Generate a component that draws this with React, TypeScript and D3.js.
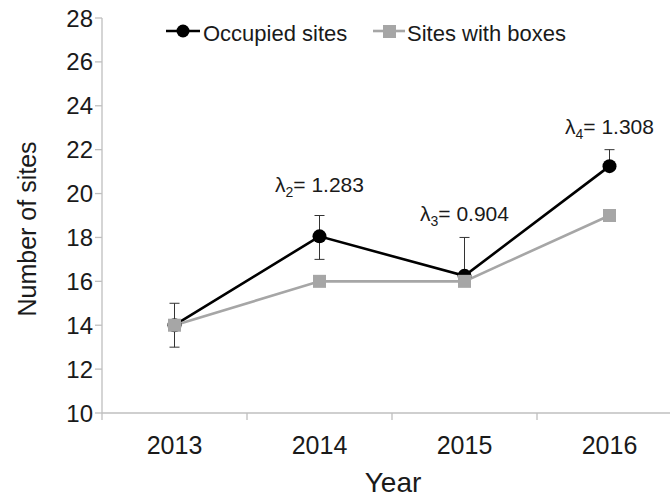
import React from "react";
import * as d3 from "d3";

const years = ["2013", "2014", "2015", "2016"];
const occupied = [14, 18.05, 16.25, 21.25];
const boxes = [14, 16, 16, 19];
const errLow = [13, 17, 16.25, 21.25];
const errHigh = [15, 19, 18, 22];
const yTicks = [10, 12, 14, 16, 18, 20, 22, 24, 26, 28];
const lambdaIdx = [1, 2, 3];
const lambdaSub = ["2", "3", "4"];
const lambdaVal = ["1.283", "0.904", "1.308"];
const lambdaAt = [20.05, 18.75, 22.72];

const W = 670, H = 497;
const left = 102, right = 682, top = 18, bottom = 413;
const font = "'Liberation Sans', Arial, sans-serif";

export default function App() {
  const x = d3.scaleBand().domain(years).range([left, right]).padding(0);
  const y = d3.scaleLinear().domain([10, 28]).range([bottom, top]);
  const cx = (i: number) => (x(years[i]) as number) + x.bandwidth() / 2;
  const line = d3.line<number>().x((_, i) => cx(i)).y((d) => y(d));
  const axisCol = "#bfbfbf";
  const gray = "#a6a6a6";
  const txt = "#1a1a1a";
  return (
    <svg width={W} height={H} style={{ position: "absolute", left: 0, top: 0, background: "#fff" }} fontFamily={font}>
      <rect width={W} height={H} fill="#fff" />
      {/* axes */}
      <line x1={left} x2={left} y1={top} y2={bottom} stroke={axisCol} strokeWidth={1.3} />
      <line x1={left} x2={W} y1={bottom} y2={bottom} stroke={axisCol} strokeWidth={1.3} />
      {yTicks.map((t) => (
        <g key={t}>
          <line x1={left - 7} x2={left} y1={y(t)} y2={y(t)} stroke={axisCol} strokeWidth={1.3} />
          <text x={left - 9} y={y(t) + 8.5} textAnchor="end" fontSize={24} fill={txt}>{t}</text>
        </g>
      ))}
      {years.map((yr, i) => (
        <g key={yr}>
          <line x1={x(yr) as number} x2={x(yr) as number} y1={bottom} y2={bottom + 7} stroke={axisCol} strokeWidth={1.3} />
          <text x={cx(i)} y={454} textAnchor="middle" fontSize={25} fill={txt}>{yr}</text>
        </g>
      ))}
      <text x={393} y={492} textAnchor="middle" fontSize={28} fill={txt}>Year</text>
      <text transform={`translate(36,${229}) rotate(-90)`} textAnchor="middle" fontSize={25} fill={txt}>Number of sites</text>
      {/* error bars */}
      {years.map((yr, i) => (
        <g key={"e" + yr} stroke="#333" strokeWidth={1}>
          <line x1={cx(i)} x2={cx(i)} y1={y(errLow[i])} y2={y(errHigh[i])} />
          <line x1={cx(i) - 5} x2={cx(i) + 5} y1={y(errHigh[i])} y2={y(errHigh[i])} />
          {errLow[i] < occupied[i] && (
            <line x1={cx(i) - 5} x2={cx(i) + 5} y1={y(errLow[i])} y2={y(errLow[i])} />
          )}
        </g>
      ))}
      {/* lines */}
      <path d={line(occupied) || ""} fill="none" stroke="#000" strokeWidth={2.6} />
      <path d={line(boxes) || ""} fill="none" stroke={gray} strokeWidth={2.6} />
      {occupied.map((v, i) => (
        <circle key={"c" + i} cx={cx(i)} cy={y(v)} r={7} fill="#000" />
      ))}
      {boxes.map((v, i) => (
        <rect key={"s" + i} x={cx(i) - 6.5} y={y(v) - 6.5} width={13} height={13} fill={gray} />
      ))}
      {/* lambda annotations */}
      {lambdaIdx.map((idx, k) => (
        <text key={"l" + k} x={cx(idx)} y={y(lambdaAt[k])} textAnchor="middle" fontSize={21} fill={txt}>
          λ<tspan fontSize={14} dy={5}>{lambdaSub[k]}</tspan>
          <tspan dy={-5}>= {lambdaVal[k]}</tspan>
        </text>
      ))}
      {/* legend */}
      <line x1={166} x2={200} y1={31} y2={31} stroke="#000" strokeWidth={2.6} />
      <circle cx={183} cy={31} r={6.5} fill="#000" />
      <text x={203} y={41} fontSize={22} fill={txt}>Occupied sites</text>
      <line x1={373} x2={405} y1={31} y2={31} stroke={gray} strokeWidth={2.6} />
      <rect x={383} y={25} width={13} height={13} fill={gray} />
      <text x={407} y={41} fontSize={22} fill={txt}>Sites with boxes</text>
    </svg>
  );
}
